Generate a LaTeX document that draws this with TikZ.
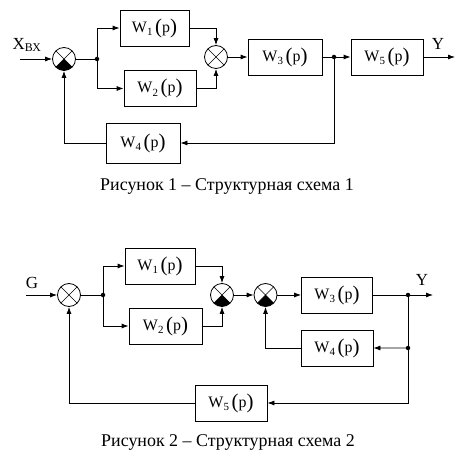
\documentclass[tikz,border=0pt]{standalone}
\usepackage{fontspec}
\setmainfont{Liberation Serif}
\usetikzlibrary{arrows.meta}
\newcommand{\tfunc}[1]{W\raisebox{-3.5bp}{\fontsize{11}{11}\selectfont #1}\,\raisebox{-1bp}{\fontsize{21}{21}\selectfont(}p\raisebox{-1bp}{\fontsize{21}{21}\selectfont)}}

\begin{document}
\begin{tikzpicture}[x=1bp, y=-1bp, line width=0.8bp, >={Latex[length=7bp,width=5bp]},
  block/.style = {draw, minimum width=72bp, minimum height=36bp, inner sep=0pt, font=\fontsize{16}{19}\selectfont},
  sum/.style = {draw, circle, minimum size=23bp, inner sep=0pt,
    path picture={\draw[line width=0.6bp] (path picture bounding box.north west) -- (path picture bounding box.south east)
      (path picture bounding box.north east) -- (path picture bounding box.south west);}},
  neg/.style = {draw, circle, minimum size=23bp, inner sep=0pt,
    path picture={\fill (path picture bounding box.center) -- (path picture bounding box.south west) -- (path picture bounding box.south east) -- cycle;
      \draw[line width=0.6bp] (path picture bounding box.north west) -- (path picture bounding box.south east)
      (path picture bounding box.north east) -- (path picture bounding box.south west);}},
  dot/.style = {circle, fill, inner sep=0pt, minimum size=4.5bp},
  lbl/.style = {font=\fontsize{17}{20}\selectfont, inner sep=0pt},
  caption/.style = {font=\fontsize{18}{21}\selectfont}]
  \useasboundingbox (0,0) rectangle (471,459);

  % Рисунок 1
  \node[neg] (s1) at (64,59) {};
  \node[dot] (d1) at (97,59) {};
  \node[block, minimum width=69bp] (W1) at (154.5,28) {\tfunc{1}};
  \node[block] (W2) at (160,88.5) {\tfunc{2}};
  \node[sum] (s2) at (216,57) {};
  \node[block, minimum width=74bp] (W3) at (285,57) {\tfunc{3}};
  \node[dot] (d2) at (334,57) {};
  \node[block] (W5) [right of=W3, node distance=102bp] {\tfunc{5}};
  \node[block, minimum width=74bp, minimum height=40bp] (W4) at (143,143) {\tfunc{4}};
  \coordinate (in1) at (20,59);
  \coordinate (out1) at (455,57);
  \node[lbl] (xbx) at (27,45) {X\textsubscript{ВХ}};
  \node[lbl] (y1) at (438,44) {Y};

  \draw[->] (in1) -- (s1);
  \draw (s1) -- (d1.center);
  \draw[->] (d1.center) |- (W1.west);
  \draw[->] (d1.center) |- (W2.west);
  \draw[->] (W1.east) -| (s2.north);
  \draw[->] (W2.east) -| (s2.south);
  \draw[->] (s2) -- (W3);
  \draw (W3) -- (d2.center);
  \draw[->] (d2.center) -- (W5);
  \draw[->] (W5) -- (out1);
  \draw[->] (d2.center) |- (W4.east);
  \draw[->] (W4.west) -| (s1.south);

  \node[caption] (cap1) at (227,186) {Рисунок 1 – Структурная схема 1};

  % Рисунок 2
  \node[sum] (t1) at (69,295) {};
  \node[dot] (d3) at (103,295) {};
  \node[block, minimum width=70bp] (V1) at (160,266) {\tfunc{1}};
  \node[block, minimum width=73bp] (V2) at (165.5,326) {\tfunc{2}};
  \node[neg] (t2) at (222,295) {};
  \node[neg] (t3) at (265.5,295) {};
  \node[block, minimum width=71bp] (V3) at (337,295) {\tfunc{3}};
  \node[block] (V4) [below of=V3, node distance=53bp] {\tfunc{4}};
  \node[block] (V5) at (231,403) {\tfunc{5}};
  \node[dot] (d4) at (408,295) {};
  \node[dot] (d5) at (408,348) {};
  \coordinate (in2) at (26,295);
  \coordinate (out2) at (433,295);
  \node[lbl] (g) at (32,283) {G};
  \node[lbl] (y2) at (422,280) {Y};

  \draw[->] (in2) -- (t1);
  \draw (t1) -- (d3.center);
  \draw[->] (d3.center) |- (V1.west);
  \draw[->] (d3.center) |- (V2.west);
  \draw[->] (V1.east) -| (t2.north);
  \draw[->] (V2.east) -| (t2.south);
  \draw[->] (t2) -- (t3);
  \draw[->] (t3) -- (V3);
  \draw (V3) -- (d4.center);
  \draw[->] (d4.center) -- (out2);
  \draw (d4.center) -- (d5.center);
  \draw[->] (d5.center) -- (V4);
  \draw[->] (V4.west) -| (t3.south);
  \draw[->] (d5.center) |- (V5.east);
  \draw[->] (V5.west) -| (t1.south);

  \node[caption] (cap2) at (228,442) {Рисунок 2 – Структурная схема 2};
\end{tikzpicture}
\end{document}
